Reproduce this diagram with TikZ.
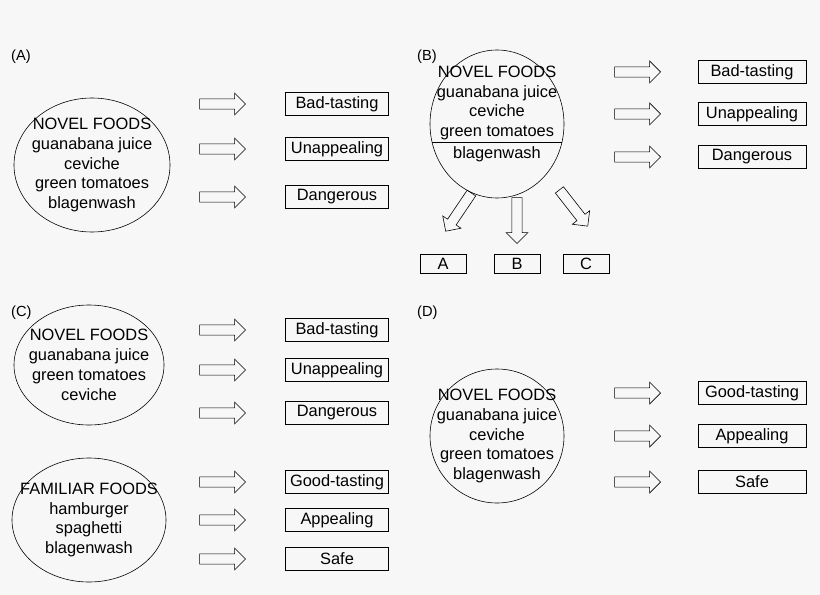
\documentclass[tikz,border=0pt]{standalone}
\usepackage{fontspec}
\setmainfont{Liberation Sans}
\usetikzlibrary{shapes.geometric,shapes.arrows}
\tikzset{
  food/.style={draw,ellipse,line width=0.5pt,inner sep=0pt},
  words/.style={align=center,inner sep=0pt,font=\fontsize{14}{17}\selectfont},
  label/.style={draw,rectangle,line width=0.5pt,minimum width=3.1cm,minimum height=0.7cm,inner sep=0pt,font=\fontsize{14}{16}\selectfont},
  small/.style={label,minimum width=1.38cm,minimum height=0.58cm},
  fat/.style={draw,single arrow,line width=0.5pt,minimum height=1.38cm,minimum width=0.66cm,single arrow head extend=0.17cm,inner sep=4pt},
  tag/.style={anchor=west,font=\fontsize{12.5}{14}\selectfont}
}
\begin{document}
\begin{tikzpicture}[x=0.03cm,y=-0.03cm]
  \fill[gray!6] (0,0) rectangle (820,595);
  % (A)
  \node[tag] (tA) at (7,57) {(A)};
  \node[food,minimum width=4.68cm,minimum height=4.02cm] (ellA) at (92,165) {};
  \node[words] (txA) at (ellA) {NOVEL FOODS\\guanabana juice\\ceviche\\green tomatoes\\blagenwash};
  \foreach \y/\t [count=\i] in {104/Bad-tasting,149/Unappealing,197/Dangerous} {
    \node[fat] (arA\i) at (220,\y) {};
    \node[label] (bxA\i) at (337,\y) {\t};
  }
  % (B)
  \node[tag] (tB) at (413,57) {(B)};
  \node[food,minimum width=4.02cm,minimum height=4.44cm] (ellB) at (497,124) {};
  \node[words] (txB) at (497,103) {NOVEL FOODS\\guanabana juice\\ceviche\\green tomatoes};
  \node[words] (txB2) at (497,154) {blagenwash};
  \coordinate (cutL) at (432,142);
  \coordinate (cutR) at (562,142);
  \draw[line width=0.5pt] (cutL) -- (cutR);
  \foreach \y/\t [count=\i] in {72/Bad-tasting,114/Unappealing,157/Dangerous} {
    \node[fat] (arB\i) at (635,\y) {};
    \node[label,minimum width=3.24cm] (bxB\i) at (752,\y) {\t};
  }
  \node[fat,rotate=-124] (dnB1) at (460,210) {};
  \node[fat,rotate=-90] (dnB2) at (517,218) {};
  \node[fat,rotate=-52] (dnB3) at (572,206) {};
  \foreach \x/\t in {443/A,517/B,586/C}
    \node[small] (sm\t) at (\x,264) {\t};
  % (C)
  \node[tag] (tC) at (7,313) {(C)};
  \node[food,minimum width=4.5cm,minimum height=3.6cm] (ellC) at (89,365) {};
  \node[words] (txC) at (ellC) {NOVEL FOODS\\guanabana juice\\green tomatoes\\ceviche};
  \foreach \y/\t [count=\i] in {330/Bad-tasting,370/Unappealing,413/Dangerous} {
    \node[fat] (arC\i) at (220,\y) {};
    \node[label] (bxC\i) at (337,\y) {\t};
  }
  \node[food,minimum width=4.62cm,minimum height=3.72cm] (ellF) at (89,520) {};
  \node[words] (txF) at (ellF) {FAMILIAR FOODS\\hamburger\\spaghetti\\blagenwash};
  \foreach \y/\t [count=\i] in {482/Good-tasting,520/Appealing,559/Safe} {
    \node[fat] (arF\i) at (220,\y) {};
    \node[label] (bxF\i) at (337,\y) {\t};
  }
  % (D)
  \node[tag] (tD) at (413,313) {(D)};
  \node[food,minimum width=4.02cm,minimum height=4.02cm] (ellD) at (497,436) {};
  \node[words] (txD) at (ellD) {NOVEL FOODS\\guanabana juice\\ceviche\\green tomatoes\\blagenwash};
  \foreach \y/\t [count=\i] in {393/Good-tasting,436/Appealing,482/Safe} {
    \node[fat] (arD\i) at (635,\y) {};
    \node[label,minimum width=3.24cm] (bxD\i) at (752,\y) {\t};
  }
\end{tikzpicture}
\end{document}
